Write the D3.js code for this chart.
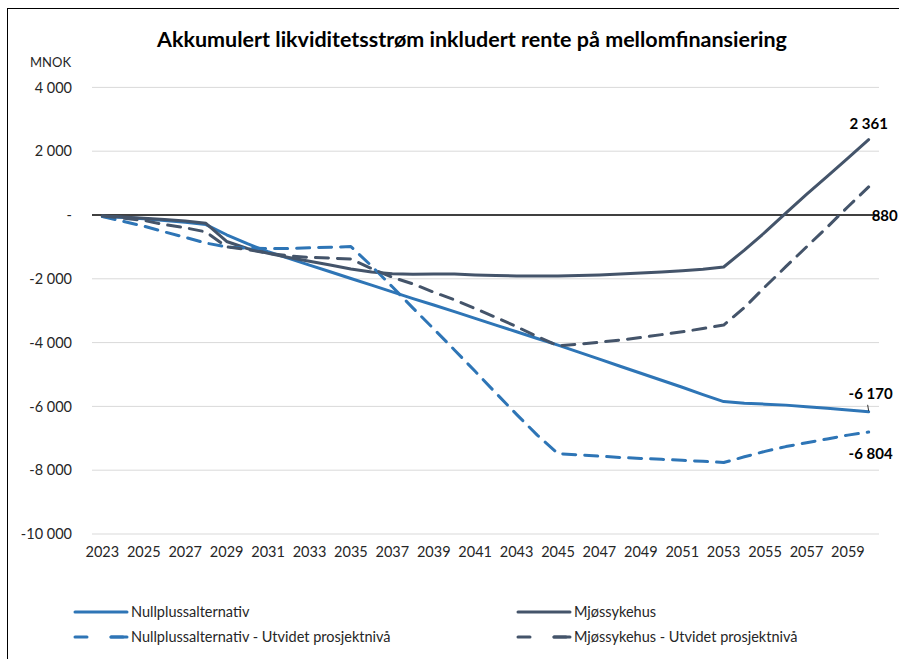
<!DOCTYPE html>
<html>
<head>
<meta charset="utf-8">
<script src="https://cdn.jsdelivr.net/npm/d3@7"></script>
<style>
    body { margin: 0; background: #fff; }
    svg text { font-family: Lato, "Noto Sans", sans-serif; fill: #262626; }
</style>
</head>
<body>
<div id="chart"></div>
<script>
// data (MNOK)
const years = d3.range(2023, 2061);

const nullpluss = [-50, -80, -120, -170, -230, -300, -620, -900, -1150, -1360,
    -1570, -1780, -1990, -2200, -2410, -2620, -2820, -3030, -3240, -3450,
    -3660, -3870, -4080, -4300, -4520, -4740, -4960, -5180, -5400, -5630,
    -5850, -5900, -5930, -5960, -6010, -6060, -6110, -6170];

const mjos = [-30, -60, -100, -140, -190, -260, -830, -1050, -1200, -1330,
    -1450, -1570, -1690, -1790, -1840, -1860, -1850, -1850, -1880, -1900,
    -1910, -1910, -1910, -1900, -1880, -1850, -1820, -1790, -1750, -1700,
    -1630, -1100, -540, 60, 650, 1210, 1780, 2361];

const nullplussUtv = [-50, -200, -350, -530, -700, -880, -1000, -1040, -1050, -1050,
    -1030, -1010, -990, -1600, -2250, -2920, -3570, -4230, -4900, -5580,
    -6250, -6900, -7480, -7520, -7560, -7600, -7630, -7660, -7690, -7720,
    -7760, -7580, -7410, -7260, -7140, -7020, -6900, -6804];

const mjosUtv = [-30, -100, -170, -300, -400, -530, -1000, -1080, -1200, -1280,
    -1330, -1350, -1380, -1680, -1950, -2160, -2420, -2660, -2930, -3210,
    -3500, -3810, -4100, -4050, -3990, -3920, -3840, -3750, -3660, -3560,
    -3450, -2900, -2250, -1620, -1000, -380, 260, 880];

const yTicks = [4000, 2000, 0, -2000, -4000, -6000, -8000, -10000];
const xTickYears = years.filter((y, i) => i % 2 == 0 && y < 2060);

const series = [
    { name: "Nullplussalternativ", values: nullpluss, color: "#2E75B6", dashed: false, endLabel: "-6 170" },
    { name: "Mjøssykehus", values: mjos, color: "#44546A", dashed: false, endLabel: "2 361" },
    { name: "Nullplussalternativ - Utvidet prosjektnivå", values: nullplussUtv, color: "#2E75B6", dashed: true, endLabel: "-6 804" },
    { name: "Mjøssykehus - Utvidet prosjektnivå", values: mjosUtv, color: "#44546A", dashed: true, endLabel: "880" }
];

const width = 899, height = 659;
const plot = { left: 92, right: 879, top: 87.4, bottom: 534 };
const dash = "13,9";

let svg = d3.select("#chart")
    .append("svg")
    .attr("width", width)
    .attr("height", height);

// frame
svg.append("rect")
    .attr("x", 7.5).attr("y", 8.5)
    .attr("width", 900).attr("height", 660)
    .attr("fill", "#fff")
    .attr("stroke", "#000")
    .attr("stroke-width", 1);

let x = d3.scaleBand()
    .domain(years)
    .range([plot.left, plot.right]);

let y = d3.scaleLinear()
    .domain([-10000, 4000])
    .range([plot.bottom, plot.top]);

let px = d => x(d) + x.bandwidth() / 2;

function fmt(v) {
    if (v == 0) return "-";
    return d3.format(",")(v).replace(/,/g, " ").replace("−", "-");
}

// title
svg.append("text")
    .attr("x", 472)
    .attr("y", 47)
    .attr("text-anchor", "middle")
    .style("font-size", "21.5px")
    .style("font-weight", "bold")
    .style("fill", "#000")
    .text("Akkumulert likviditetsstrøm inkludert rente på mellomfinansiering");

svg.append("text")
    .attr("x", 30)
    .attr("y", 67)
    .style("font-size", "13px")
    .text("MNOK");

// grid lines
svg.append("g")
    .attr("class", "grids")
    .selectAll("line")
    .data(yTicks.filter(t => t != 0))
    .join("line")
    .attr("x1", plot.left).attr("x2", plot.right)
    .attr("y1", d => y(d)).attr("y2", d => y(d))
    .attr("stroke", "#D9D9D9")
    .attr("stroke-width", 1);

// y axis labels
let yAxis = svg.append("g")
    .attr("transform", `translate(${plot.left}, 0)`)
    .call(d3.axisLeft(y).tickValues(yTicks).tickFormat(fmt).tickSize(0).tickPadding(20));
yAxis.select(".domain").remove();
yAxis.selectAll("text")
    .style("font-size", "14.5px")
    .attr("fill", "#262626")
    .style("font-family", "Lato, sans-serif");

// x axis labels
let xAxis = svg.append("g")
    .attr("transform", `translate(0, ${plot.bottom})`)
    .call(d3.axisBottom(x).tickValues(xTickYears).tickSize(0).tickPadding(13));
xAxis.select(".domain").remove();
xAxis.selectAll("text")
    .style("font-size", "14.5px")
    .attr("fill", "#262626")
    .style("font-family", "Lato, sans-serif");

// zero line
svg.append("line")
    .attr("x1", plot.left).attr("x2", plot.right)
    .attr("y1", y(0)).attr("y2", y(0))
    .attr("stroke", "#000")
    .attr("stroke-width", 1.5);

// series
let line = d3.line()
    .x((d, i) => px(years[i]))
    .y(d => y(d));

svg.append("g")
    .attr("class", "lines")
    .selectAll("path")
    .data(series)
    .join("path")
    .attr("d", d => line(d.values))
    .attr("fill", "none")
    .attr("stroke", d => d.color)
    .attr("stroke-width", 3)
    .attr("stroke-linecap", "round")
    .attr("stroke-linejoin", "round")
    .attr("stroke-dasharray", d => d.dashed ? dash : null);

// end labels
const lastYear = years[years.length - 1];
const labelPos = {
    "2 361": { dx: 0, y: y(2361) - 16, anchor: "middle" },
    "880": { dx: 3, y: y(0) + 1, anchor: "start" },
    "-6 170": { dx: 2, y: y(-6170) - 18, anchor: "middle" },
    "-6 804": { dx: 2, y: y(-6804) + 22, anchor: "middle" }
};

svg.append("g")
    .attr("class", "end-labels")
    .selectAll("text")
    .data(series)
    .join("text")
    .attr("x", d => px(lastYear) + labelPos[d.endLabel].dx)
    .attr("y", d => labelPos[d.endLabel].y)
    .attr("dy", "0.35em")
    .attr("text-anchor", d => labelPos[d.endLabel].anchor)
    .style("font-size", "15px")
    .style("font-weight", "bold")
    .style("fill", "#000")
    .text(d => d.endLabel);

// leader line for -6 170
svg.append("line")
    .attr("x1", px(lastYear) - 1).attr("x2", px(lastYear))
    .attr("y1", y(-6170) - 7).attr("y2", y(-6170) - 1)
    .attr("stroke", "#000")
    .attr("stroke-width", 0.8);

// legend
const legendCols = [75, 518];
const legendRows = [612, 637];

let legend = svg.append("g")
    .attr("class", "legend")
    .selectAll("g")
    .data(series)
    .join("g")
    .attr("transform", (d, i) => `translate(${legendCols[i % 2]}, ${legendRows[Math.floor(i / 2)]})`);

legend.append("line")
    .attr("x1", 0).attr("x2", 52)
    .attr("y1", 0).attr("y2", 0)
    .attr("stroke", d => d.color)
    .attr("stroke-width", 3)
    .attr("stroke-linecap", "round")
    .attr("stroke-dasharray", d => d.dashed ? "12,24" : null);

legend.filter(d => d.dashed)
    .append("line")
    .attr("x1", 36).attr("x2", 52)
    .attr("y1", 0).attr("y2", 0)
    .attr("stroke", d => d.color)
    .attr("stroke-width", 3)
    .attr("stroke-linecap", "round");

legend.append("text")
    .attr("x", 56)
    .attr("y", 0)
    .attr("dy", "0.35em")
    .style("font-size", "14.5px")
    .text(d => d.name);
</script>
</body>
</html>
